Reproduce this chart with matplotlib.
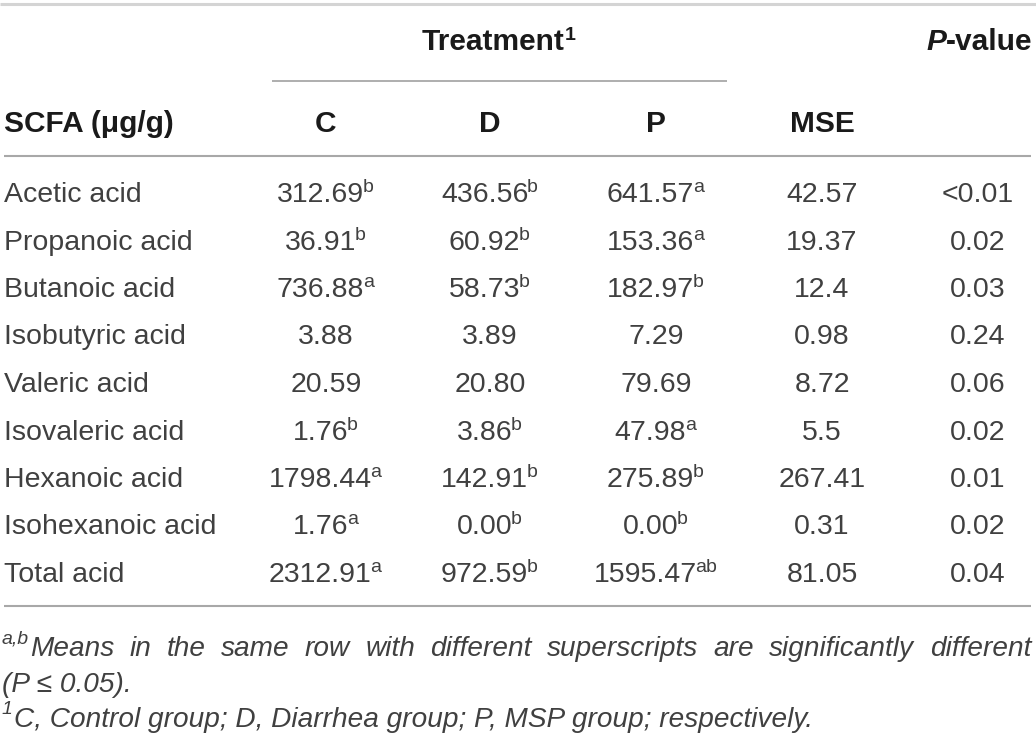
import matplotlib
matplotlib.use("Agg")
import matplotlib.pyplot as plt
from matplotlib import font_manager

# ---------------- data ----------------
acids = ["Acetic acid", "Propanoic acid", "Butanoic acid", "Isobutyric acid",
         "Valeric acid", "Isovaleric acid", "Hexanoic acid", "Isohexanoic acid",
         "Total acid"]
C_vals = ["312.69", "36.91", "736.88", "3.88", "20.59", "1.76", "1798.44", "1.76", "2312.91"]
C_sup = ["b", "b", "a", "", "", "b", "a", "a", "a"]
D_vals = ["436.56", "60.92", "58.73", "3.89", "20.80", "3.86", "142.91", "0.00", "972.59"]
D_sup = ["b", "b", "b", "", "", "b", "b", "b", "b"]
P_vals = ["641.57", "153.36", "182.97", "7.29", "79.69", "47.98", "275.89", "0.00", "1595.47"]
P_sup = ["a", "a", "b", "", "", "a", "b", "b", "ab"]
MSE_vals = ["42.57", "19.37", "12.4", "0.98", "8.72", "5.5", "267.41", "0.31", "81.05"]
P_values = ["<0.01", "0.02", "0.03", "0.24", "0.06", "0.02", "0.01", "0.02", "0.04"]
col_heads = ["C", "D", "P", "MSE"]
footnote1 = "Means in the same row with different superscripts are significantly different"
footnote2 = "(P \u2264 0.05)."
footnote3 = "C, Control group; D, Diarrhea group; P, MSP group; respectively."

# ---------------- fonts ----------------
def have(fam):
    try:
        font_manager.findfont(font_manager.FontProperties(family=fam), fallback_to_default=False)
        return True
    except Exception:
        return False

BODY = "Liberation Sans" if have("Liberation Sans") else "DejaVu Sans"

W, H = 1036, 733
fig = plt.figure(figsize=(W / 100, H / 100), dpi=100)
ax = fig.add_axes([0, 0, 1, 1])
ax.set_xlim(0, W)
ax.set_ylim(H, 0)
ax.axis("off")
renderer = fig.canvas.get_renderer()

FS = 20.5
HFS = 21.5
SUPFS = 14
BODY_COL = "#404040"
HEAD_COL = "#1a1a1a"
LINE_COL = "#a8a8a8"


def width(s, **kw):
    t = ax.text(0, 0, s, **kw)
    w = t.get_window_extent(renderer).width
    t.remove()
    return w


def val_sup(xc, yb, v, sup):
    kw = dict(family=BODY, fontsize=FS, color=BODY_COL)
    skw = dict(family=BODY, fontsize=SUPFS, color=BODY_COL)
    w1 = width(v, **kw)
    w2 = width(sup, **skw) if sup else 0
    x0 = xc - (w1 + w2) / 2
    ax.text(x0, yb, v, ha="left", va="baseline", **kw)
    if sup:
        ax.text(x0 + w1 - 1.5, yb - 10, sup, ha="left", va="baseline", **skw)


# ---------------- rules ----------------
ax.plot([0, W], [4, 4], color="#d4d4d4", lw=2.2, solid_capstyle="butt")
ax.plot([272, 727], [80.5, 80.5], color=LINE_COL, lw=1.3, solid_capstyle="butt")
ax.plot([4, 1031], [156, 156], color=LINE_COL, lw=1.5, solid_capstyle="butt")
ax.plot([4, 1031], [606, 606], color=LINE_COL, lw=1.5, solid_capstyle="butt")

# ---------------- headers ----------------
hkw = dict(family=BODY, fontsize=HFS, color=HEAD_COL, fontweight="bold")
hskw = dict(family=BODY, fontsize=SUPFS, color=HEAD_COL, fontweight="bold")
tw = width("Treatment", **hkw)
sw = width("1", **hskw)
tx = 499 - (tw + sw) / 2
ax.text(tx, 50, "Treatment", ha="left", va="baseline", **hkw)
ax.text(tx + tw - 0.5, 40, "1", ha="left", va="baseline", **hskw)
vw = width("-value", **hkw)
ax.text(1032, 50, "-value", ha="right", va="baseline", **hkw)
ax.text(1032 - vw + 1, 50, "P", ha="right", va="baseline", style="italic", **hkw)

ax.text(4, 132, "SCFA (\u03bcg/g)", ha="left", va="baseline", **hkw)
col_x = [326, 490, 656, 822]
for x, h in zip(col_x, col_heads):
    ax.text(x, 132, h, ha="center", va="baseline", **hkw)

# ---------------- body ----------------
pval_x = 978
y0, dy = 202, 47.5
for i, name in enumerate(acids):
    yb = y0 + i * dy
    ax.text(4, yb, name, ha="left", va="baseline", family=BODY, fontsize=FS, color=BODY_COL)
    val_sup(col_x[0], yb, C_vals[i], C_sup[i])
    val_sup(col_x[1], yb, D_vals[i], D_sup[i])
    val_sup(col_x[2], yb, P_vals[i], P_sup[i])
    val_sup(col_x[3], yb, MSE_vals[i], "")
    ax.text(pval_x, yb, P_values[i], ha="center", va="baseline", family=BODY,
            fontsize=FS, color=BODY_COL)

# ---------------- footnotes ----------------
FFS = 20.2
fkw = dict(family=BODY, fontsize=FFS, color=BODY_COL, style="italic")
fskw = dict(family=BODY, fontsize=14, color=BODY_COL, style="italic")
# line 1, justified
sup_w = width("a,b", **fskw)
ax.text(2, 643, "a,b", ha="left", va="baseline", **fskw)
words = footnote1.split(" ")
ws = [width(w, **fkw) for w in words]
xs = 2 + sup_w + 1
gap = (1031 - xs - sum(ws)) / (len(words) - 1)
x = xs
for w, wd in zip(words, ws):
    ax.text(x, 656, w, ha="left", va="baseline", **fkw)
    x += wd + gap
# line 2
ax.text(2, 692, footnote2, ha="left", va="baseline", **fkw)
# line 3
s1w = width("1", **fskw)
ax.text(2, 714, "1", ha="left", va="baseline", **fskw)
ax.text(2 + s1w + 1, 727, footnote3, ha="left", va="baseline", **fkw)

fig.savefig("out.png", dpi=100, facecolor="white")
